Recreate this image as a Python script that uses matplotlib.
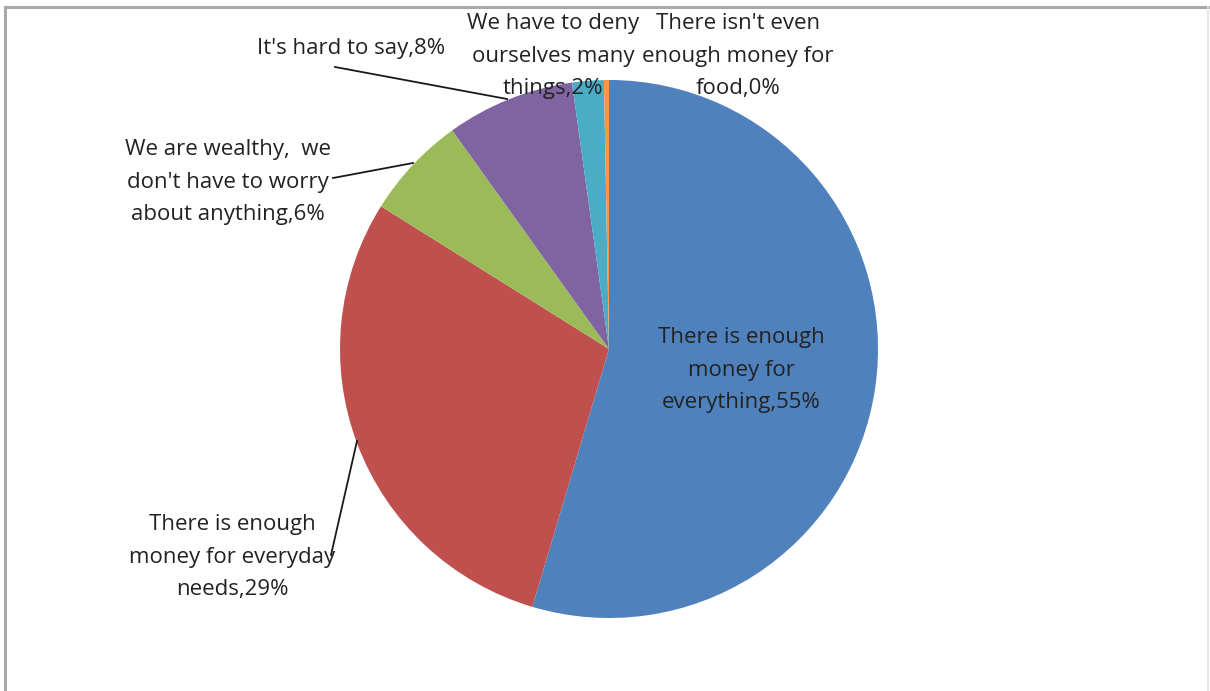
import matplotlib
matplotlib.use("Agg")
import matplotlib.pyplot as plt
from matplotlib.lines import Line2D

# Household financial situation survey
categories = [
    "There is enough\nmoney for\neverything",
    "There is enough\nmoney for everyday\nneeds",
    "We are wealthy,  we\ndon't have to worry\nabout anything",
    "It's hard to say",
    "We have to deny\nourselves many\nthings",
    "There isn't even\nenough money for\nfood",
]
shares = [54.6, 29.3, 6.2, 7.7, 1.9, 0.3]
colors = ["#4F81BD", "#C0504D", "#9BBB59", "#8064A2", "#4BACC6", "#F79646"]

W, H = 1210, 691
fig = plt.figure(figsize=(W / 100, H / 100), dpi=100)
ax = fig.add_axes([0, 0, 1, 1])

cx, cy, r = 609, H - 349, 269
ax.pie(shares, colors=colors, startangle=90, counterclock=False,
       center=(cx, cy), radius=r, wedgeprops=dict(linewidth=0))
ax.set_xlim(0, W)
ax.set_ylim(0, H)
ax.set_aspect("equal", adjustable="box")
ax.axis("off")

# label anchor points (pixel coordinates from top-left)
label_pos = [(741, 370), (232, 557), (228, 182), (351, 48), (553, 56), (738, 56)]
leaders = [None, [(357, 441), (331, 555)], [(413, 163), (333, 178)],
           [(335, 67), (507, 99)], None, None]

txt_color = "#222222"
for cat, val, (px, py), ld in zip(categories, shares, label_pos, leaders):
    if ld is not None:
        (x0, y0), (x1, y1) = ld
        ax.add_line(Line2D([x0, x1], [H - y0, H - y1], color="#1a1a1a", lw=1.3))
    ax.text(px, H - py, f"{cat},{round(val):.0f}%", ha="center", va="center",
            fontsize=16, family="Open Sans", color=txt_color, linespacing=1.72)

# chart area frame
fig.add_artist(Line2D([5 / W, 5 / W], [0, 1 - 7 / H], transform=fig.transFigure,
                      color="#a8a8a8", lw=2.2))
fig.add_artist(Line2D([5 / W, 1208 / W], [1 - 7 / H, 1 - 7 / H],
                      transform=fig.transFigure, color="#a8a8a8", lw=2.2))
fig.add_artist(Line2D([1208 / W, 1208 / W], [0, 1 - 7 / H], transform=fig.transFigure,
                      color="#e2e2e2", lw=1.2))

fig.savefig("out.png", dpi=100)
